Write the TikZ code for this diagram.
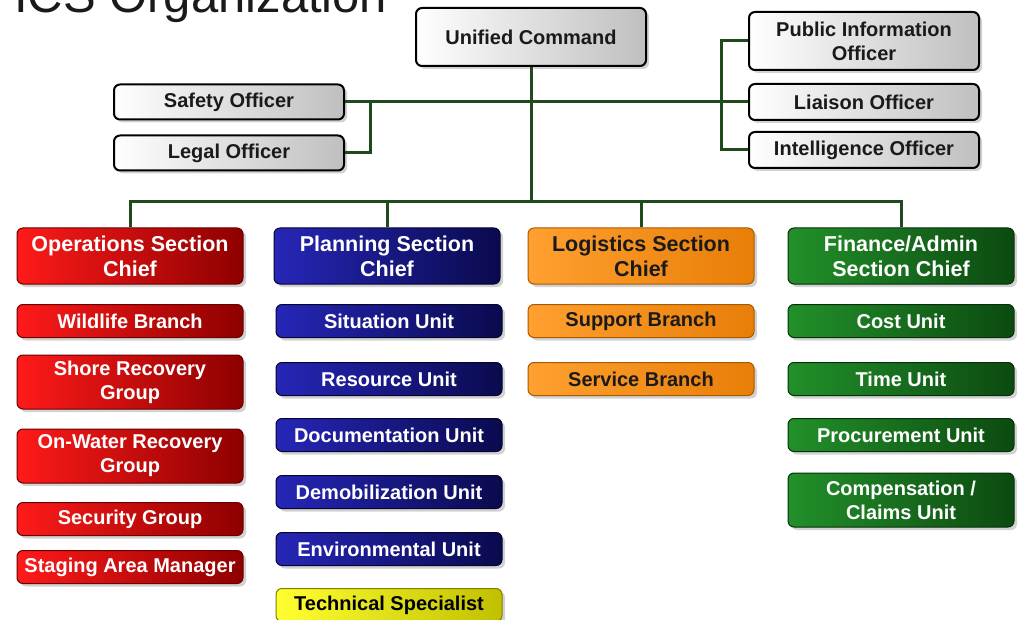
\documentclass[tikz,border=0pt]{standalone}
\usepackage{fontspec}
\setmainfont{Liberation Sans}
\usetikzlibrary{shadows}
\definecolor{connG}{HTML}{1E4A1E}
\definecolor{redL}{HTML}{FF1A1A}\definecolor{redR}{HTML}{8E0000}\definecolor{redD}{HTML}{6A0000}
\definecolor{bluL}{HTML}{2626B8}\definecolor{bluR}{HTML}{0A0A4E}\definecolor{bluD}{HTML}{05052E}
\definecolor{orgL}{HTML}{FFA030}\definecolor{orgR}{HTML}{E87E08}\definecolor{orgD}{HTML}{A85A00}
\definecolor{grnL}{HTML}{22902A}\definecolor{grnR}{HTML}{0C4A10}\definecolor{grnD}{HTML}{06300A}
\definecolor{yelL}{HTML}{FFFF30}\definecolor{yelR}{HTML}{C0C000}\definecolor{yelD}{HTML}{808000}
\definecolor{txtD}{HTML}{1A1A1A}
\tikzset{
  obox/.style={rounded corners=6pt, inner sep=0pt, align=center,
    font=\bfseries\fontsize{20}{24}\selectfont,
    drop shadow={shadow xshift=3pt, shadow yshift=-3pt, opacity=0.35}},
  wbox/.style={obox, left color=white, right color=black!25, draw=black,
    line width=2pt, text=txtD, minimum width=230pt},
  secbox/.style={obox, minimum width=226pt, minimum height=56pt,
    font=\bfseries\fontsize{21.5}{25}\selectfont},
  ubox/.style={obox, minimum width=226pt, minimum height=33pt},
  redb/.style={left color=redL, right color=redR, draw=redD, line width=1pt, text=white},
  blub/.style={left color=bluL, right color=bluR, draw=bluD, line width=1pt, text=white},
  orgb/.style={left color=orgL, right color=orgR, draw=orgD, line width=1pt, text=txtD},
  grnb/.style={left color=grnL, right color=grnR, draw=grnD, line width=1pt, text=white},
  yelb/.style={left color=yelL, right color=yelR, draw=yelD, line width=1pt, text=black},
  conn/.style={draw=connG, line width=3pt}
}
\begin{document}
\begin{tikzpicture}[x=1pt,y=-1pt]
\useasboundingbox (0,0) rectangle (1019,620);
\fill[white] (0,0) rectangle (1019,620);
\node[anchor=base west, inner sep=0pt, text=txtD, font=\fontsize{49}{49}\selectfont] (title) at (14,13) {ICS Organization};

% command staff
\node[wbox, minimum height=58pt] (uc) at (531,37) {Unified Command};
\node[wbox, minimum height=58pt] (pio) at (864,41) {Public Information\\Officer};
\node[wbox, minimum height=36pt] (liaison) at (864,102) {Liaison Officer};
\node[wbox, minimum height=36pt] (intel) at (864,150) {Intelligence Officer};
\node[wbox, minimum height=35pt] (safety) at (229,102) {Safety Officer};
\node[wbox, minimum height=35pt] (legal) at (229,153) {Legal Officer};

% sections
\node[secbox, redb] (ops) at (130,256) {Operations Section\\Chief};
\node[secbox, blub] (plan) at (387,256) {Planning Section\\Chief};
\node[secbox, orgb] (log) at (641,256) {Logistics Section\\Chief};
\node[secbox, grnb] (fin) at (901,256) {Finance/Admin\\Section Chief};

% operations
\node[ubox, redb] (wild) at (130,321) {Wildlife Branch};
\node[ubox, redb, minimum height=54pt] (shore) at (130,382) {Shore Recovery\\Group};
\node[ubox, redb, minimum height=54pt] (water) at (130,456) {On-Water Recovery\\Group};
\node[ubox, redb] (sec) at (130,519) {Security Group};
\node[ubox, redb] (stage) at (130,567) {Staging Area Manager};

% planning
\node[ubox, blub] (sit) at (389,321) {Situation Unit};
\node[ubox, blub] (res) at (389,379) {Resource Unit};
\node[ubox, blub] (doc) at (389,435) {Documentation Unit};
\node[ubox, blub] (demob) at (389,492) {Demobilization Unit};
\node[ubox, blub] (env) at (389,549) {Environmental Unit};
\node[ubox, yelb] (tech) at (389,605) {Technical Specialist};

% logistics
\node[ubox, orgb] (sup) at (641,321) {Support Branch};
\node[ubox, orgb] (serv) at (641,379) {Service Branch};

% finance
\node[ubox, grnb] (cost) at (901,321) {Cost Unit};
\node[ubox, grnb] (time) at (901,379) {Time Unit};
\node[ubox, grnb] (proc) at (901,435) {Procurement Unit};
\node[ubox, grnb, minimum height=54pt] (comp) at (901,500) {Compensation /\\Claims Unit};

% connectors
\coordinate (bus) at (531,202);
\coordinate (lb) at (370,102);
\coordinate (rb) at (721,41);
\draw[conn] (uc.south) -- (uc.south |- bus);
\draw[conn] (ops.north) -- (ops.north |- bus) -- (fin.north |- bus) -- (fin.north);
\draw[conn] (plan.north) -- (plan.north |- bus);
\draw[conn] (log.north) -- (log.north |- bus);
\draw[conn] (safety.east) -- (liaison.west);
\draw[conn] (lb) |- (legal.east);
\draw[conn] (pio.west) -- (rb) |- (intel.west);
\end{tikzpicture}
\end{document}
